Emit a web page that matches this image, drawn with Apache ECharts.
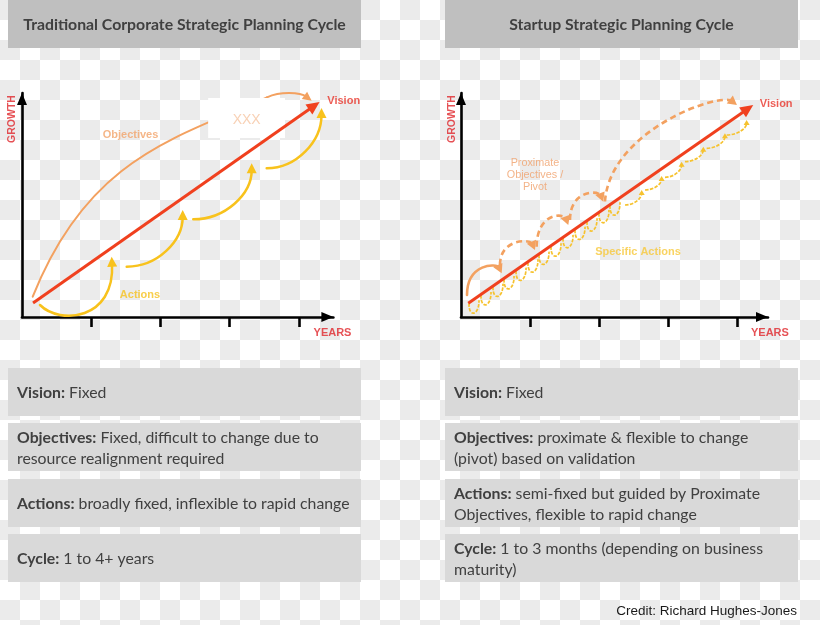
<!DOCTYPE html>
<html><head><meta charset="utf-8">
<script src="https://cdn.jsdelivr.net/npm/echarts@6/dist/echarts.min.js"></script>
<style>html,body{margin:0;padding:0;background:#fff}#c{width:820px;height:625px}</style>
</head><body><div id="c"></div>
<script>
// ================= DATA =================
// x = years (ticks 1..4), y = growth (arbitrary units 0..224)
const yearTicks = [1, 2, 3, 4];

// ---- Traditional corporate cycle (left) ----
const tradVisionLine = [[0.16, 14, 4.30, 215]];
const tradObjectivesArc = [[0.155, 20.3, 0.957, 159.8, 2.240, 179.2, 3.540, 219.7]];
const tradObjectivesTip = [[3.540, 219.7, 3.728, 225.5, 4.017, 225.0, 4.186, 216.3]];
const tradFirstAction = [[0.260, 12, 0.549, -8, 1.344, -3, 1.296, 60.3]];
const tradActionHooks = [[1.513, 50.3, 2.322, 107], [2.475, 97.7, 3.319, 153.7], [3.536, 148.7, 4.328, 209]];
const tradPlaceholderBox = [[2.69, 219, 3.80, 179]];
const tradLabelNames = ['Vision', 'Objectives', 'Actions', 'XXX', 'GROWTH', 'YEARS'];
const tradLabelPos = [[4.39, 215.7], [1.568, 182], [1.705, 22], [3.247, 197], [-0.145, 198], [4.487, -16]];

// ---- Startup cycle (right) ----
const startVisionLine = [[0.106, 13.7, 4.236, 212]];
const startPivotFirst = [[0.087, 22, 0.590, 43.7, 48.7]];
const startPivotArches = [[0.565, 52, 1.072, 67, 73.7], [1.097, 70.3, 1.555, 92, 98.7], [1.580, 97, 2.062, 115.3, 122]];
const startPivotLong = [[2.087, 115.5, 2.159, 187, 3.754, 225, 4.0, 212]];
const startActionLoops = [[0.188, 14.7], [0.362, 23], [0.536, 31.4], [0.696, 39], [0.870, 47.4], [1.043, 55.7], [1.203, 63.4],
  [1.377, 71.7], [1.551, 80.1], [1.725, 88.4], [1.899, 96.8], [2.072, 105.1], [2.232, 112.7]];
const startActionHooks = [[2.377, 112, 2.619, 127], [2.667, 127, 2.908, 141], [2.957, 139.7, 3.198, 155.3],
  [3.246, 155.3, 3.512, 170.3], [3.561, 168.7, 3.826, 183.7], [3.851, 182, 4.140, 197]];
const startLabelNames = ['Vision', 'Proximate\nObjectives /\nPivot', 'Specific Actions', 'GROWTH', 'YEARS'];
const startLabelPos = [[4.309, 213], [1.072, 142], [2.565, 65], [-0.130, 198], [4.478, -16]];

// ---- Text panels ----
const headerTitles = ['Traditional Corporate Strategic Planning Cycle', 'Startup Strategic Planning Cycle'];
const tradRows = [
  ['Vision:', ' Fixed'],
  ['Objectives:', ' Fixed, difficult to change due to\nresource realignment required'],
  ['Actions:', ' broadly fixed, inflexible to rapid change'],
  ['Cycle:', ' 1 to 4+ years']
];
const startRows = [
  ['Vision:', ' Fixed'],
  ['Objectives:', ' proximate & flexible to change\n(pivot) based on validation'],
  ['Actions:', ' semi-fixed but guided by Proximate\nObjectives, flexible to rapid change'],
  ['Cycle:', ' 1 to 3 months (depending on business\nmaturity)']
];
const creditText = 'Credit: Richard Hughes-Jones';

// ================= STYLES =================
const RED = '#f0401e';
const ORANGE = '#f3a160';
const YELLOW = '#f8c21c';
const YELLOW2 = '#f6c22e';
const LABEL_FONT = 'Liberation Sans';
const BOX_FONT = 'Lato';
const BOX_SIZE = 15.8;

const labelStyles = {
  'Vision': {position: 'right', distance: 1, color: '#e8342a', fontWeight: 'bold', fontSize: 11},
  'Objectives': {color: '#f2a46a', fontWeight: 'bold', fontSize: 11},
  'Actions': {color: '#f6c21e', fontWeight: 'bold', fontSize: 11},
  'XXX': {color: '#f6c6a2', fontSize: 14},
  'GROWTH': {color: '#e0262b', fontWeight: 'bold', fontSize: 10.5, rotate: 90},
  'YEARS': {color: '#e0262b', fontWeight: 'bold', fontSize: 11},
  'Proximate\nObjectives /\nPivot': {color: '#f0a06a', fontSize: 10.8, lineHeight: 12},
  'Specific Actions': {color: '#f7c83a', fontWeight: 'bold', fontSize: 11}
};

// ================= HELPERS =================
function arrowGroup(p0, c1, c2, p3, st) {
  const children = [];
  let end = p3;
  if (st.head) {
    let dx = p3[0] - c2[0], dy = p3[1] - c2[1];
    if (Math.hypot(dx, dy) < 0.5) { dx = p3[0] - c1[0]; dy = p3[1] - c1[1]; }
    const len = Math.hypot(dx, dy) || 1, ux = dx / len, uy = dy / len;
    const L = st.head[0], W = st.head[1];
    end = [p3[0] - ux * L * 0.7, p3[1] - uy * L * 0.7];
    children.push({type: 'polygon', z2: 2, shape: {points: [
      [p3[0], p3[1]],
      [p3[0] - ux * L - uy * W, p3[1] - uy * L + ux * W],
      [p3[0] - ux * L + uy * W, p3[1] - uy * L - ux * W]]},
      style: {fill: st.color}});
  }
  children.unshift({type: 'bezierCurve', z2: 1,
    shape: {x1: p0[0], y1: p0[1], x2: end[0], y2: end[1], cpx1: c1[0], cpy1: c1[1], cpx2: c2[0], cpy2: c2[1]},
    style: {stroke: st.color, lineWidth: st.width, lineDash: st.dash || null, fill: null, lineCap: st.dash ? 'butt' : 'round'}});
  return {type: 'group', children};
}
function custom(g, data, z, build) {
  return {type: 'custom', xAxisIndex: g, yAxisIndex: g, data, z, silent: true, animation: false, clip: false,
    encode: {x: 0, y: 1}, renderItem: (params, api) => build(api, params)};
}
function cubicSeries(g, data, z, st) {
  return custom(g, data, z, api => {
    const v = i => api.value(i);
    return arrowGroup(api.coord([v(0), v(1)]), api.coord([v(2), v(3)]), api.coord([v(4), v(5)]), api.coord([v(6), v(7)]), st);
  });
}
function hookSeries(g, data, z, st) {
  return custom(g, data, z, api => {
    const p0 = api.coord([api.value(0), api.value(1)]), p3 = api.coord([api.value(2), api.value(3)]);
    const k = 0.55;
    return arrowGroup(p0, [p0[0] + k * (p3[0] - p0[0]), p0[1]], [p3[0], p3[1] + k * (p0[1] - p3[1])], p3, st);
  });
}
function archSeries(g, data, z, st) {
  return custom(g, data, z, api => {
    const p0 = api.coord([api.value(0), api.value(1)]), p3 = api.coord([api.value(2), api.value(3)]);
    const pk = api.coord([api.value(0), api.value(4)])[1];
    const c = (8 * pk - p0[1] - p3[1]) / 6;
    return arrowGroup(p0, [p0[0], c], [p3[0] - 0.14 * (p3[0] - p0[0]), c], p3, st);
  });
}
function loopSeries(g, data, z, st) {
  return custom(g, data, z, api => {
    const a = api.coord([api.value(0), api.value(1)]);
    return arrowGroup([a[0] - 5, a[1] + 1], [a[0] - 5.5, a[1] + 16], [a[0] + 5.5, a[1] + 13], [a[0] + 5, a[1] - 2], st);
  });
}
function lineSeries(g, data, z, st) {
  return custom(g, data, z, api => {
    const p0 = api.coord([api.value(0), api.value(1)]), p3 = api.coord([api.value(2), api.value(3)]);
    const dx = p3[0] - p0[0], dy = p3[1] - p0[1], len = Math.hypot(dx, dy), ux = dx / len, uy = dy / len;
    const L = st.head[0], W = st.head[1];
    const e = [p3[0] - ux * L * 0.7, p3[1] - uy * L * 0.7];
    return {type: 'group', children: [
      {type: 'line', shape: {x1: p0[0], y1: p0[1], x2: e[0], y2: e[1]}, style: {stroke: st.color, lineWidth: st.width}},
      {type: 'polygon', shape: {points: [[p3[0], p3[1]], [p3[0] - ux * L - uy * W, p3[1] - uy * L + ux * W], [p3[0] - ux * L + uy * W, p3[1] - uy * L - ux * W]]}, style: {fill: st.color}}
    ]};
  });
}
function rectSeries(g, data, z, fill) {
  return custom(g, data, z, api => {
    const a = api.coord([api.value(0), api.value(1)]), b = api.coord([api.value(2), api.value(3)]);
    return {type: 'rect', shape: {x: a[0], y: a[1], width: b[0] - a[0], height: b[1] - a[1]}, style: {fill}};
  });
}
function labelSeries(g, names, pos) {
  return {type: 'scatter', xAxisIndex: g, yAxisIndex: g, z: 10, silent: true, animation: false, clip: false,
    symbolSize: 1, itemStyle: {color: 'rgba(0,0,0,0)'}, labelLayout: {hideOverlap: false},
    data: names.map((n, i) => ({name: n, value: pos[i],
      label: Object.assign({show: true, position: 'inside', formatter: '{b}', fontFamily: LABEL_FONT}, labelStyles[n])}))};
}
function xAxisFor(g, max) {
  return {type: 'value', gridIndex: g, min: 0, max: max, splitLine: {show: false}, axisLabel: {show: false},
    axisLine: {show: true, onZero: false, symbol: ['none', 'triangle'], symbolSize: [10, 12], symbolOffset: [0, -6],
      lineStyle: {color: '#000', width: 2.6}},
    axisTick: {show: true, customValues: yearTicks, length: 10, inside: false, lineStyle: {color: '#000', width: 2.6}}};
}
function yAxisFor(g) {
  return {type: 'value', gridIndex: g, min: 0, max: 224, splitLine: {show: false}, axisLabel: {show: false},
    axisTick: {show: false},
    axisLine: {show: true, onZero: false, symbol: ['none', 'triangle'], symbolSize: [10, 12], symbolOffset: [0, -6],
      lineStyle: {color: '#000', width: 2.6}}};
}

// ================= BACKGROUND / TEXT PANELS =================
const cv = document.createElement('canvas');
cv.width = 40; cv.height = 40;
const cx = cv.getContext('2d');
cx.fillStyle = '#ffffff'; cx.fillRect(0, 0, 40, 40);
cx.fillStyle = '#ebebeb'; cx.fillRect(0, 0, 20, 20); cx.fillRect(20, 20, 20, 20);

const panelX = [8, 445], panelW = 353;
const rowTops = [368, 423, 479, 534], rowH = 48;
const graphics = [{type: 'rect', z: -10, silent: true, shape: {x: 0, y: 0, width: 820, height: 625},
  style: {fill: {image: cv, repeat: 'repeat'}}}];
headerTitles.forEach((t, i) => {
  graphics.push({type: 'rect', silent: true, shape: {x: panelX[i], y: 0, width: panelW, height: 48}, style: {fill: '#bfbfbf'}});
  graphics.push({type: 'text', silent: true, z: 5, style: {text: t, x: panelX[i] + panelW / 2, y: 25, align: 'center', verticalAlign: 'middle',
    fill: '#404040', fontFamily: BOX_FONT, fontWeight: 'bold', fontSize: BOX_SIZE}});
});
[tradRows, startRows].forEach((rows, i) => {
  rows.forEach((r, j) => {
    graphics.push({type: 'rect', silent: true, shape: {x: panelX[i], y: rowTops[j], width: panelW, height: rowH}, style: {fill: '#d9d9d9'}});
    graphics.push({type: 'text', silent: true, z: 5, style: {text: '{b|' + r[0] + '}' + r[1], x: panelX[i] + 9, y: rowTops[j] + rowH / 2 + 1,
      align: 'left', verticalAlign: 'middle', fill: '#404040', fontFamily: BOX_FONT, fontSize: BOX_SIZE, lineHeight: 21,
      rich: {b: {fontWeight: 'bold', fill: '#404040', fontFamily: BOX_FONT, fontSize: BOX_SIZE, lineHeight: 21}}}});
  });
});
graphics.push({type: 'text', silent: true, style: {text: creditText, x: 797, y: 611, align: 'right', verticalAlign: 'middle',
  fill: '#1a1a1a', fontFamily: LABEL_FONT, fontSize: 13.5}});

// ================= CHART =================
const chart = echarts.init(document.getElementById('c'), null, {renderer: 'canvas', width: 820, height: 625});
const stYellow = {color: YELLOW, width: 2.5, head: [10, 5]};
const stOrangeR = {color: ORANGE, width: 2.6, head: [9, 5]};
const stOrangeRD = {color: ORANGE, width: 2.6, head: [9, 5], dash: [6, 4]};
const stSmall = {color: YELLOW2, width: 1.7, dash: [3.5, 1.4]};
const stSmallHead = {color: YELLOW2, width: 1.7, dash: [3.5, 1.4], head: [5, 3]};

chart.setOption({
  animation: false,
  graphic: {elements: graphics},
  grid: [{left: 22, top: 93, width: 311.4, height: 224}, {left: 461, top: 93, width: 307, height: 224}],
  xAxis: [xAxisFor(0, 4.5), xAxisFor(1, 4.45)],
  yAxis: [yAxisFor(0), yAxisFor(1)],
  series: [
    cubicSeries(0, tradObjectivesArc, 2, {color: ORANGE, width: 2}),
    cubicSeries(0, tradObjectivesTip, 2, {color: ORANGE, width: 2, head: [9, 4.5]}),
    rectSeries(0, tradPlaceholderBox, 3, '#ffffff'),
    lineSeries(0, tradVisionLine, 5, {color: RED, width: 3, head: [13, 6]}),
    cubicSeries(0, tradFirstAction, 6, stYellow),
    hookSeries(0, tradActionHooks, 6, stYellow),
    labelSeries(0, tradLabelNames, tradLabelPos),

    archSeries(1, startPivotFirst, 4, stOrangeR),
    archSeries(1, startPivotArches, 4, stOrangeRD),
    cubicSeries(1, startPivotLong, 4, stOrangeRD),
    loopSeries(1, startActionLoops, 4, stSmall),
    hookSeries(1, startActionHooks, 4, stSmallHead),
    lineSeries(1, startVisionLine, 5, {color: RED, width: 3, head: [13, 6]}),
    labelSeries(1, startLabelNames, startLabelPos)
  ]
});
</script></body></html>
